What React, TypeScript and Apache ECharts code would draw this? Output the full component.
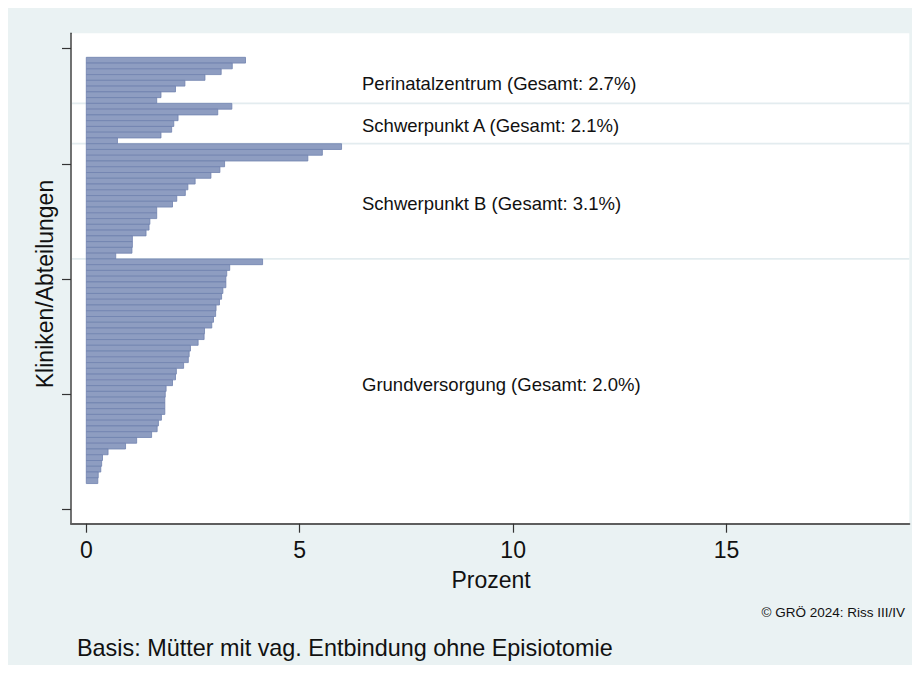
import React, { useEffect, useRef } from "react";
import * as echarts from "echarts";

// Values (percent), top to bottom within each group
const perinatalzentrum = [3.73, 3.42, 3.16, 2.78, 2.31, 2.09, 1.75, 1.65];
const schwerpunktA = [3.41, 3.08, 2.15, 2.05, 2.0, 1.75, 0.73];
const schwerpunktB = [
  5.98, 5.53, 5.19, 3.24, 3.13, 2.92, 2.55, 2.38, 2.32, 2.12, 2.02, 1.65, 1.65,
  1.49, 1.47, 1.4, 1.08, 1.08, 1.07, 0.69,
];
const grundversorgung = [
  4.13, 3.36, 3.29, 3.27, 3.27, 3.2, 3.17, 3.12, 3.04, 3.03, 2.98, 2.94, 2.77,
  2.76, 2.62, 2.44, 2.41, 2.39, 2.28, 2.11, 2.09, 2.02, 1.87, 1.85, 1.84, 1.84,
  1.84, 1.76, 1.69, 1.66, 1.53, 1.18, 0.92, 0.51, 0.38, 0.36, 0.34, 0.28, 0.27,
];
const groupLabels = [
  "Perinatalzentrum (Gesamt: 2.7%)",
  "Schwerpunkt A (Gesamt: 2.1%)",
  "Schwerpunkt B (Gesamt: 3.1%)",
  "Grundversorgung (Gesamt: 2.0%)",
];
const xTicks = [0, 5, 10, 15];
const yTicks = [0, 20, 40, 60, 80];
const xTitle = "Prozent";
const yTitle = "Kliniken/Abteilungen";
const noteText = "Basis: Mütter mit vag. Entbindung ohne Episiotomie";
const copyrightText = "© GRÖ 2024: Riss III/IV";

const FONT = "'Liberation Sans', Arial, Helvetica, sans-serif";

export default function App() {
  const ref = useRef<HTMLDivElement>(null);

  useEffect(() => {
    if (!ref.current) return;
    const chart = echarts.init(ref.current, undefined, { renderer: "svg" });

    // Build bar rows: position counted from the bottom (first bar at 5)
    const groups = [perinatalzentrum, schwerpunktA, schwerpunktB, grundversorgung];
    const total = groups.reduce((s, g) => s + g.length, 0);
    const bottomPos = 5;
    let pos = bottomPos + total - 1;
    const bars: number[][] = [];
    const separators: number[][] = [];
    groups.forEach((g, gi) => {
      g.forEach((v) => {
        bars.push([v, pos]);
        pos -= 1;
      });
      if (gi < groups.length - 1) separators.push([0, pos + 0.5]);
    });

    const xMin = -0.358;
    const xMax = 19.28;

    chart.setOption({
      animation: false,
      backgroundColor: "#EAF2F3",
      grid: {
        left: 63,
        right: 10.7,
        top: 25.3,
        bottom: 141.3,
        show: true,
        backgroundColor: "#FFFFFF",
        borderWidth: 0,
      },
      xAxis: {
        type: "value",
        min: xMin,
        max: xMax,
        axisLine: { show: true, onZero: false, lineStyle: { color: "#5E5E5E", width: 2 } },
        axisTick: {
          show: true,
          customValues: xTicks,
          length: 9,
          lineStyle: { color: "#333333", width: 1.2 },
        },
        axisLabel: {
          show: true,
          customValues: xTicks,
          margin: 15,
          fontSize: 23,
          color: "#111111",
          fontFamily: FONT,
        },
        splitLine: { show: false },
      },
      yAxis: {
        type: "value",
        min: -2.47,
        max: 82.67,
        axisLine: { show: true, onZero: false, lineStyle: { color: "#444444", width: 1.5 } },
        axisTick: {
          show: true,
          customValues: yTicks,
          length: 9,
          lineStyle: { color: "#333333", width: 1.2 },
        },
        axisLabel: { show: false },
        splitLine: { show: false },
      },
      series: [
        {
          type: "custom",
          name: "separators",
          data: separators,
          encode: { x: 0, y: 1 },
          z: 1,
          renderItem: (params: any, api: any) => {
            const y = api.value(1);
            const a = api.coord([xMin, y]);
            const b = api.coord([xMax, y]);
            return {
              type: "line",
              shape: { x1: a[0] + 1, y1: a[1], x2: b[0], y2: b[1] },
              style: { stroke: "#E3ECEF", lineWidth: 1.8 },
            };
          },
        },
        {
          type: "custom",
          name: "bars",
          data: bars,
          encode: { x: 0, y: 1 },
          z: 2,
          renderItem: (params: any, api: any) => {
            const v = api.value(0);
            const y = api.value(1);
            const p0 = api.coord([0, y]);
            const p1 = api.coord([v, y]);
            const h = api.size([0, 1])[1];
            return {
              type: "rect",
              shape: { x: p0[0], y: p0[1] - h / 2, width: p1[0] - p0[0], height: h },
              style: { fill: "#8E9DC1", stroke: "#7081AE", lineWidth: 0.8 },
            };
          },
        },
      ],
      graphic: [
        ...groupLabels.map((t, i) => ({
          type: "text",
          x: 354,
          y: [75, 117, 195, 376][i],
          style: {
            text: t,
            fontSize: 18.5,
            fontFamily: FONT,
            fill: "#111111",
            align: "left",
            verticalAlign: "middle",
          },
        })),
        {
          type: "text",
          x: 483,
          y: 572,
          style: {
            text: xTitle,
            fontSize: 23,
            fontFamily: FONT,
            fill: "#111111",
            align: "center",
            verticalAlign: "middle",
          },
        },
        {
          type: "text",
          x: 37,
          y: 276,
          rotation: Math.PI / 2,
          style: {
            text: yTitle,
            fontSize: 23,
            fontFamily: FONT,
            fill: "#111111",
            align: "center",
            verticalAlign: "middle",
          },
        },
        {
          type: "text",
          x: 897,
          y: 604,
          style: {
            text: copyrightText,
            fontSize: 13.5,
            fontFamily: FONT,
            fill: "#111111",
            align: "right",
            verticalAlign: "middle",
          },
        },
        {
          type: "text",
          x: 69,
          y: 640,
          style: {
            text: noteText,
            fontSize: 23.4,
            fontFamily: FONT,
            fill: "#111111",
            align: "left",
            verticalAlign: "middle",
          },
        },
      ],
    });

    return () => chart.dispose();
  }, []);

  return <div ref={ref} style={{ width: 912, height: 657 }} />;
}
